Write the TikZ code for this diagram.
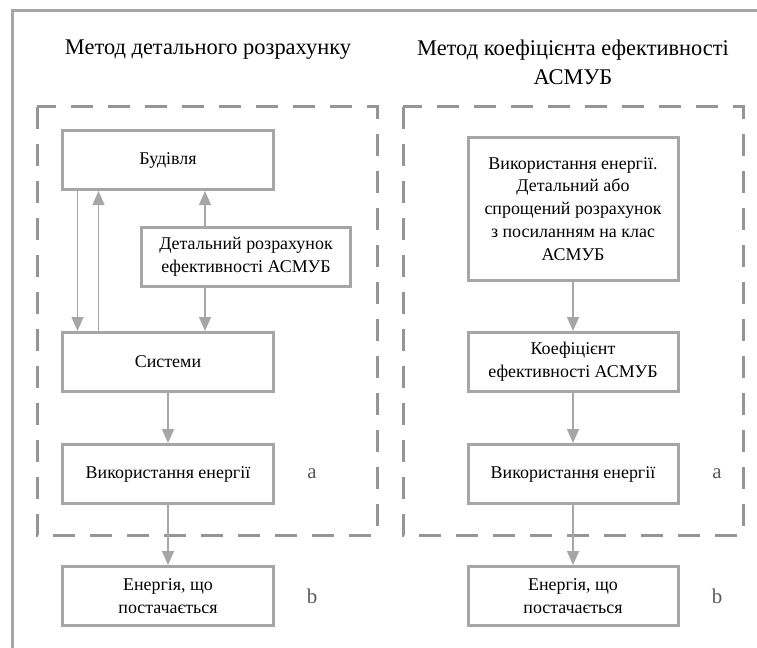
\documentclass[tikz,border=0pt]{standalone}
\usepackage{fontspec}
\setmainfont{Liberation Serif}
\usetikzlibrary{arrows.meta,positioning}
\definecolor{boxgray}{HTML}{A6A6A6}

\begin{document}
\begin{tikzpicture}[x=1bp,y=-1bp,
		box/.style={draw=boxgray, line width=3bp, minimum width=210bp, minimum height=59bp, inner sep=2bp, align=center, font=\fontsize{18}{23}\selectfont, text=black},
		arr/.style={draw=boxgray, line width=1.4bp, -{Triangle[width=12bp,length=14bp]}},
		frame/.style={draw=boxgray!90!black, line width=3bp, dash pattern=on 22bp off 15bp},
		letter/.style={font=\fontsize{21}{24}\selectfont, text=black!65},
		title/.style={font=\fontsize{22.5}{29}\selectfont, align=center, text=black}
	]
	\useasboundingbox (0,0) rectangle (757,648);
	\draw[boxgray, line width=3bp] (12,648) -- (12,11) -- (757,11);

	\node[title] (tL) at (208,50) {Метод детального розрахунку};
	\node[title] (tR) at (573,62) {Метод коефіцієнта ефективності\\АСМУБ};

	\draw[frame] (37,107) rectangle (377,535);
	\draw[frame] (403,107) rectangle (743,535);

	% detailed method
	\node[box] (bud) at (168,160) {Будівля};
	\node[box, minimum width=209bp] (det) at (246,257) {Детальний розрахунок\\ефективності АСМУБ};
	\node[box] (sys) at (168,362) {Системи};
	\node[box] (useL) at (168,474) {Використання енергії};
	\node[box] (supL) at (168,596) {Енергія, що\\постачається};
	\node[letter] (aL) at (312,474) {a};
	\node[letter] (bL) at (312,596) {b};

	\coordinate (dx) at (205,0);
	\draw[arr] ([xshift=16bp]bud.south west) -- ([xshift=16bp]sys.north west);
	\draw[arr] ([xshift=37bp]sys.north west) -- ([xshift=37bp]bud.south west);
	\draw[arr] (det.north -| dx) -- (bud.south -| dx);
	\draw[arr] (det.south -| dx) -- (sys.north -| dx);
	\draw[arr] (sys) -- (useL);
	\draw[arr] (useL) -- (supL);

	% factor method
	\node[box, minimum height=142bp] (calc) at (573,209) {Використання енергії.\\Детальний або\\спрощений розрахунок\\з посиланням на клас\\АСМУБ};
	\node[box] (coef) at (573,362) {Коефіцієнт\\ефективності АСМУБ};
	\node[box] (useR) at (573,474) {Використання енергії};
	\node[box] (supR) at (573,596) {Енергія, що\\постачається};
	\node[letter] (aR) at (717,474) {a};
	\node[letter] (bR) at (717,596) {b};

	\draw[arr] (calc) -- (coef);
	\draw[arr] (coef) -- (useR);
	\draw[arr] (useR) -- (supR);
\end{tikzpicture}
\end{document}
